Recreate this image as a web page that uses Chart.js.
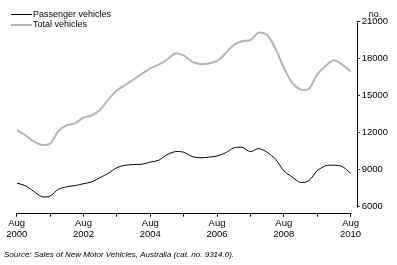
<!DOCTYPE html>
<html>
<head>
<meta charset="utf-8">
<script src="https://cdn.jsdelivr.net/npm/chart.js@4.4.1/dist/chart.umd.min.js"></script>
<style>
  html, body { margin: 0; padding: 0; background: #fff; }
  #wrap { width: 397px; height: 265px; position: relative; }
</style>
</head>
<body>
<div id="wrap"><canvas id="salesChart"></canvas></div>
<script>
// quarterly readings, Aug 2000 -> Aug 2010 (month offsets from Aug 2000)
const months = Array.from({length: 41}, (_, i) => i * 3);

const seriesNames = ['Passenger vehicles', 'Total vehicles'];

const passenger = [7900, 7700, 7250, 6800, 6850, 7400, 7600, 7700, 7850, 8000,
  8350, 8700, 9150, 9350, 9400, 9430, 9600, 9750, 10200, 10450,
  10400, 10050, 9950, 10000, 10100, 10350, 10750, 10800, 10450, 10700,
  10400, 9850, 8900, 8400, 7950, 8100, 8900, 9300, 9350, 9250, 8700];

const total = [12200, 11800, 11300, 11000, 11100, 12100, 12600, 12750, 13200, 13400,
  13850, 14700, 15400, 15850, 16300, 16750, 17200, 17500, 17900, 18400,
  18250, 17750, 17550, 17600, 17800, 18400, 19100, 19400, 19500, 20100,
  19900, 18800, 17250, 16050, 15500, 15550, 16700, 17400, 17850, 17500, 16950];

const xTicks = [0, 12, 24, 36, 48, 60, 72, 84, 96, 108, 120];
const xTickLabels = [['Aug', '2000'], '', ['Aug', '2002'], '', ['Aug', '2004'], '',
  ['Aug', '2006'], '', ['Aug', '2008'], '', ['Aug', '2010']];
const yTicks = [6000, 9000, 12000, 15000, 18000, 21000];

const unitLabel = 'no.';
const sourceText = 'Source: Sales of New Motor Vehicles, Australia (cat. no. 9314.0).';

const grey = '#b4b4b4';

Chart.defaults.font.family = '"Liberation Sans", Arial, sans-serif';
Chart.defaults.font.size = 9;
Chart.defaults.color = '#000';

const toPoints = (vals) => vals.map((v, i) => ({x: months[i], y: v}));

// axis lines, legend, unit and source note
const extras = {
  id: 'extras',
  afterDraw(chart) {
    const {ctx, chartArea, scales: {x, y}} = chart;
    ctx.save();
    ctx.strokeStyle = '#000';
    ctx.lineWidth = 1;

    const ax = Math.round(chartArea.right) + 0.5;
    ctx.beginPath();
    ctx.moveTo(ax, Math.round(y.getPixelForValue(21000)) + 0.5);
    ctx.lineTo(ax, Math.round(y.getPixelForValue(6000)) + 0.5);
    ctx.stroke();

    const ay = Math.round(chartArea.bottom) + 0.5;
    ctx.beginPath();
    ctx.moveTo(Math.round(x.getPixelForValue(0)) + 0.5, ay);
    ctx.lineTo(Math.round(x.getPixelForValue(120)) + 0.5, ay);
    ctx.stroke();

    // legend
    const rows = [
      {text: seriesNames[0], color: '#000', width: 1, y: 14.5},
      {text: seriesNames[1], color: grey, width: 2, y: 25}
    ];
    ctx.font = '9px "Liberation Sans", Arial, sans-serif';
    ctx.textBaseline = 'middle';
    ctx.fillStyle = '#000';
    rows.forEach(r => {
      ctx.strokeStyle = r.color;
      ctx.lineWidth = r.width;
      ctx.beginPath();
      ctx.moveTo(11, r.y);
      ctx.lineTo(32, r.y);
      ctx.stroke();
      ctx.fillText(r.text, 33, r.y);
    });

    ctx.textAlign = 'center';
    ctx.textBaseline = 'alphabetic';
    ctx.fillText(unitLabel, 375, 16.5);

    ctx.textAlign = 'left';
    ctx.textBaseline = 'middle';
    ctx.font = 'italic 8px "Liberation Sans", Arial, sans-serif';
    ctx.fillText(sourceText, 4, 255);
    ctx.restore();
  }
};

new Chart(document.getElementById('salesChart'), {
  type: 'line',
  data: {
    datasets: [{
      label: seriesNames[0],
      data: toPoints(passenger),
      borderColor: '#000',
      borderWidth: 1,
      pointRadius: 0,
      tension: 0.3
    }, {
      label: seriesNames[1],
      data: toPoints(total),
      borderColor: grey,
      borderWidth: 2,
      pointRadius: 0,
      tension: 0.3
    }]
  },
  options: {
    responsive: true,
    maintainAspectRatio: false,
    animation: false,
    layout: {padding: {left: 16.7, top: 21.5, right: 0, bottom: 0}},
    scales: {
      x: {
        type: 'linear',
        min: 0,
        max: 122.2,
        afterBuildTicks: (s) => { s.ticks = xTicks.map(v => ({value: v})); },
        afterFit: (s) => { s.height = 52.3; },
        border: {display: false},
        grid: {drawOnChartArea: false, drawTicks: true, tickLength: 4, color: '#000'},
        ticks: {
          autoSkip: false,
          maxRotation: 0,
          padding: 1,
          font: {size: 9.5},
          callback: (value, index) => xTickLabels[index]
        }
      },
      y: {
        position: 'right',
        min: 5500,
        max: 21000,
        afterBuildTicks: (s) => { s.ticks = yTicks.map(v => ({value: v})); },
        afterFit: (s) => { s.width = 40.3; },
        border: {display: false},
        grid: {drawOnChartArea: false, drawTicks: true, tickLength: 3, color: '#000'},
        ticks: {
          padding: 2,
          font: {size: 9.5},
          callback: (value) => String(value)
        }
      }
    },
    plugins: {
      legend: {display: false},
      tooltip: {enabled: false}
    }
  },
  plugins: [extras]
});
</script>
</body>
</html>
